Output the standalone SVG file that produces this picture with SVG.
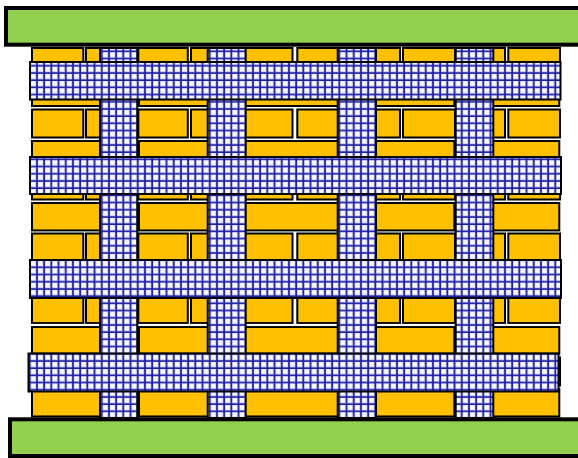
<svg xmlns="http://www.w3.org/2000/svg" width="578" height="458" viewBox="0 0 578 458">
<style>
.plate{fill:#92D050;stroke:#000;stroke-width:4}
.brick{fill:#FFC000;stroke:#000;stroke-width:2}
.mesh{fill:url(#grid);stroke:#000;stroke-width:2}
</style>
<defs>
<pattern id="grid" width="7.2" height="7.2" patternUnits="userSpaceOnUse">
<rect width="7.2" height="7.2" fill="#D2D2F2"/>
<rect x="2.1" y="2.1" width="4.2" height="4.2" fill="#F8F8FF"/>
<path d="M1 0V7.2M0 1H7.2" stroke="#1E1EA2" stroke-width="1.7"/>
</pattern>
<g id="srow">
<rect class="brick" x="32" y="0" width="51.3" height="28"/>
<rect class="brick" x="86" y="0" width="50" height="28"/>
<rect class="brick" x="138.3" y="0" width="49.5" height="28"/>
<rect class="brick" x="191" y="0" width="50" height="28"/>
<rect class="brick" x="242" y="0" width="50.5" height="28"/>
<rect class="brick" x="297.3" y="0" width="50" height="28"/>
<rect class="brick" x="350" y="0" width="50" height="28"/>
<rect class="brick" x="403" y="0" width="52" height="28"/>
<rect class="brick" x="456" y="0" width="49" height="28"/>
<rect class="brick" x="508.3" y="0" width="51.7" height="28"/>
</g>
<g id="lrow">
<rect class="brick" x="32" y="0" width="104" height="28"/>
<rect class="brick" x="139" y="0" width="103" height="28"/>
<rect class="brick" x="245" y="0" width="103" height="28"/>
<rect class="brick" x="351" y="0" width="103.3" height="28"/>
<rect class="brick" x="457" y="0" width="102.3" height="28"/>
</g>
</defs>
<g id="bricks">
<use href="#srow" transform="translate(0,48)"/>
<use href="#lrow" transform="translate(0,78)"/>
<use href="#srow" transform="translate(0,109.5)"/>
<use href="#lrow" transform="translate(0,141)"/>
<use href="#srow" transform="translate(0,171.5)"/>
<use href="#lrow" transform="translate(0,203) scale(1,0.98)"/>
<use href="#srow" transform="translate(0,233.5)"/>
<use href="#lrow" transform="translate(0,265)"/>
<use href="#srow" transform="translate(0,297.5) scale(1,0.91)"/>
<use href="#lrow" transform="translate(0,327) scale(1,0.95)"/>
<use href="#srow" transform="translate(0,357.5)"/>
<use href="#lrow" transform="translate(0,389) scale(1,0.98)"/>
</g>
<g id="vertical-mesh">
<rect class="mesh" x="100" y="48" width="37.3" height="370"/>
<rect class="mesh" x="207.7" y="48" width="38" height="370"/>
<rect class="mesh" x="337.7" y="48" width="38.3" height="370"/>
<rect class="mesh" x="455.7" y="48" width="37.6" height="370"/>
</g>
<g id="horizontal-mesh">
<rect class="mesh" x="30" y="62" width="530.5" height="37.5"/>
<rect class="mesh" x="30" y="157" width="531" height="37"/>
<rect class="mesh" x="30" y="260" width="531" height="38"/>
<rect class="mesh" x="28.5" y="353.5" width="530" height="38"/>
</g>
<g id="top-plate"><rect class="plate" x="6" y="8" width="600" height="36.7"/></g>
<g id="bottom-plate"><rect class="plate" x="10" y="419.3" width="600" height="36.7"/></g>
</svg>
